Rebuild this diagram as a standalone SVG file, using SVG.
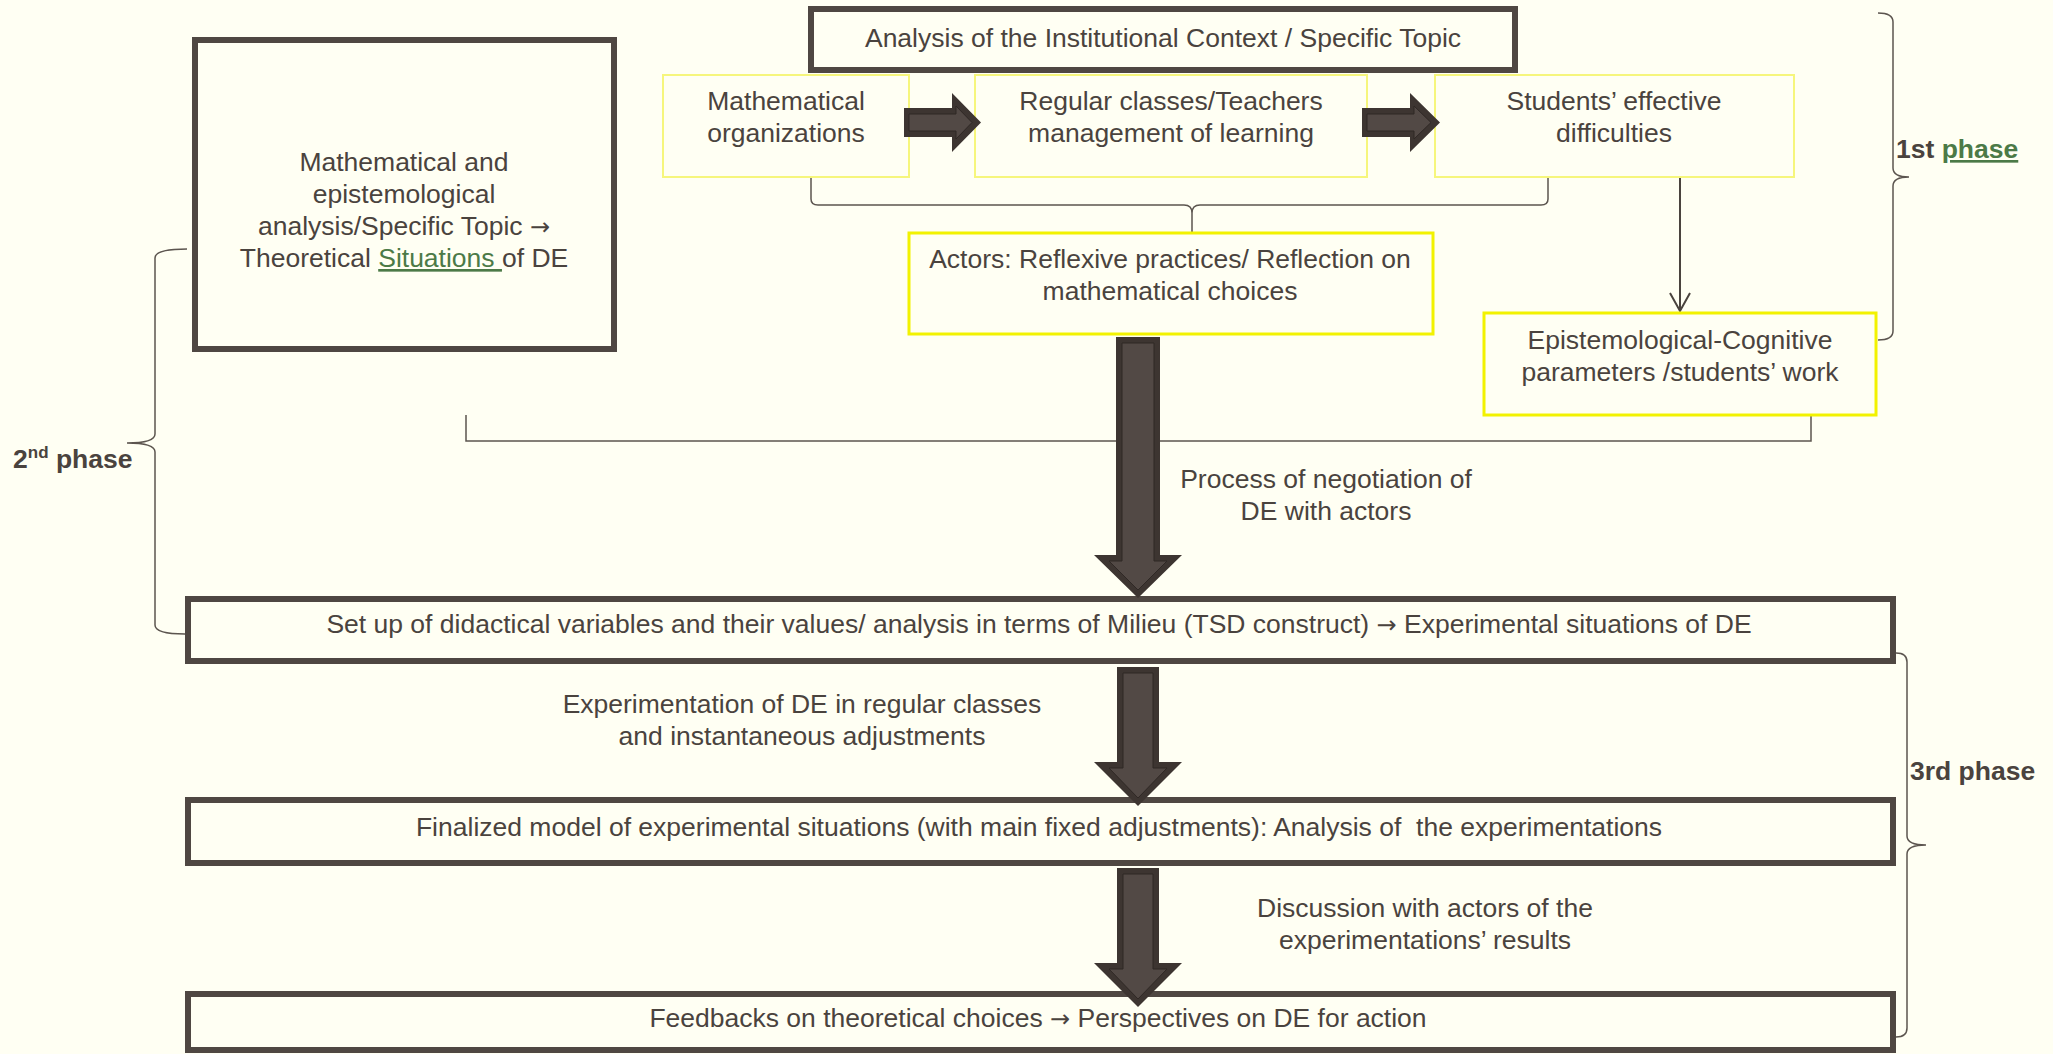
<svg xmlns="http://www.w3.org/2000/svg" width="2053" height="1054" viewBox="0 0 2053 1054">
<style>
.frame{fill:#fffff3;stroke:#4f4742;stroke-width:6}
.ybox{fill:#fffff3;stroke:#f6f67c;stroke-width:2}
.ybox2{fill:#fffff3;stroke:#f2f200;stroke-width:3}
.t{font-family:"Liberation Sans",Arial,sans-serif;font-size:26.5px;fill:#4a433e;text-anchor:middle}
.ar{font-family:"DejaVu Sans",sans-serif;font-size:24px}
.ph{font-family:"Liberation Sans",Arial,sans-serif;font-size:26.5px;font-weight:bold;fill:#4a433e}
.green{fill:#4c7a47;text-decoration:underline}
.line{fill:none;stroke:#5c554f;stroke-width:1.5}
.thin{fill:none;stroke:#4a433e;stroke-width:2}
.arO{fill:#3d3531}
.arI{fill:#524945;stroke:#2f2825;stroke-width:1}
</style>
<rect x="0" y="0" width="2053" height="1054" fill="#fffff3"/>

<g id="connectors">
  <path class="line" d="M811,177 V199 Q811,205 818,205 H1184 Q1192,205 1192,213 V232 M1548,177 V199 Q1548,205 1541,205 H1200 Q1192,205 1192,213"/>
  <path class="line" d="M466,415 V441 H1811 V415"/>
  <path class="thin" d="M1680,177 V311 M1670,293 L1680,311 L1690,293"/>
  <path class="line" d="M1878,13 Q1893,13 1893,22 V168 Q1893,177 1909,177 Q1893,177 1893,186 V331 Q1893,340 1878,340"/>
  <path class="line" d="M187,249 Q155,249 155,258 V434 Q155,443 127,443 Q155,443 155,452 V625 Q155,634 185,634"/>
  <path class="line" d="M1896,653 Q1907,653 1907,662 V836 Q1907,845 1926,845 Q1907,845 1907,854 V1028 Q1907,1037 1896,1037"/>
</g>

<g id="n-left">
  <rect class="frame" x="195" y="40" width="419" height="309"/>
  <text class="t" x="404" y="171">Mathematical and</text>
  <text class="t" x="404" y="203">epistemological</text>
  <text class="t" x="404" y="235">analysis/Specific Topic <tspan class="ar">→</tspan></text>
  <text class="t" x="404" y="267" xml:space="preserve">Theoretical <tspan class="green">Situations </tspan>of DE</text>
</g>

<g id="n-context">
  <rect class="frame" x="811" y="9" width="704" height="61"/>
  <text class="t" x="1163" y="47">Analysis of the Institutional Context / Specific Topic</text>
</g>

<g id="n-mathorg">
  <rect class="ybox" x="663" y="75" width="246" height="102"/>
  <text class="t" x="786" y="110">Mathematical</text>
  <text class="t" x="786" y="142">organizations</text>
</g>

<g id="n-regular">
  <rect class="ybox" x="975" y="75" width="392" height="102"/>
  <text class="t" x="1171" y="110">Regular classes/Teachers</text>
  <text class="t" x="1171" y="142">management of learning</text>
</g>

<g id="n-students">
  <rect class="ybox" x="1435" y="75" width="359" height="102"/>
  <text class="t" x="1614" y="110">Students’ effective</text>
  <text class="t" x="1614" y="142">difficulties</text>
</g>

<g id="n-actors">
  <rect class="ybox2" x="909" y="233" width="524" height="101"/>
  <text class="t" x="1170" y="268">Actors: Reflexive practices/ Reflection on</text>
  <text class="t" x="1170" y="300">mathematical choices</text>
</g>

<g id="n-epist">
  <rect class="ybox2" x="1484" y="313" width="392" height="102"/>
  <text class="t" x="1680" y="349">Epistemological-Cognitive</text>
  <text class="t" x="1680" y="381">parameters /students’ work</text>
</g>

<g id="n-setup">
  <rect class="frame" x="188" y="599" width="1705" height="62"/>
  <text class="t" x="1039" y="633">Set up of didactical variables and their values/ analysis in terms of Milieu (TSD construct) <tspan class="ar">→</tspan> Experimental situations of DE</text>
</g>

<g id="n-final">
  <rect class="frame" x="188" y="800" width="1705" height="63"/>
  <text class="t" x="1039" y="836" xml:space="preserve">Finalized model of experimental situations (with main fixed adjustments): Analysis of  the experimentations</text>
</g>

<g id="n-feedback">
  <rect class="frame" x="188" y="994" width="1705" height="56"/>
  <text class="t" x="1038" y="1027">Feedbacks on theoretical choices <tspan class="ar">→</tspan> Perspectives on DE for action</text>
</g>

<g id="arrows">
  <polygon class="arO" points="904,108 952,108 952,93 981,122.5 952,152 952,137 904,137"/>
  <polygon class="arI" points="909,114 956,114 956,106 972,122.5 956,139 956,131 909,131"/>
  <polygon class="arO" points="1362,108 1410,108 1410,93 1440,122.5 1410,152 1410,137 1362,137"/>
  <polygon class="arI" points="1367,114 1414,114 1414,106 1431,122.5 1414,139 1414,131 1367,131"/>

  <polygon class="arO" points="1116,337 1160,337 1160,555 1182,555 1138,598 1094,555 1116,555"/>
  <polygon class="arI" points="1122,343 1154,343 1154,561 1167,561 1138,590 1109,561 1122,561"/>
  <polygon class="arO" points="1117,667 1159,667 1159,762 1182,762 1138,806 1094,762 1117,762"/>
  <polygon class="arI" points="1123,673 1153,673 1153,768 1167,768 1138,798 1109,768 1123,768"/>
  <polygon class="arO" points="1117,868 1159,868 1159,963 1182,963 1138,1007 1094,963 1117,963"/>
  <polygon class="arI" points="1123,874 1153,874 1153,969 1167,969 1138,999 1109,969 1123,969"/>
</g>

<g id="labels">
  <text class="t" x="1326" y="488">Process of negotiation of</text>
  <text class="t" x="1326" y="520">DE with actors</text>
  <text class="t" x="802" y="713">Experimentation of DE in regular classes</text>
  <text class="t" x="802" y="745">and instantaneous adjustments</text>
  <text class="t" x="1425" y="917">Discussion with actors of the</text>
  <text class="t" x="1425" y="949">experimentations’ results</text>
  <text class="ph" x="1896" y="158">1st <tspan class="green">phase</tspan></text>
  <text class="ph" x="13" y="468">2<tspan font-size="17" dy="-10">nd</tspan><tspan dy="10"> phase</tspan></text>
  <text class="ph" x="1910" y="780">3rd phase</text>
</g>
</svg>
